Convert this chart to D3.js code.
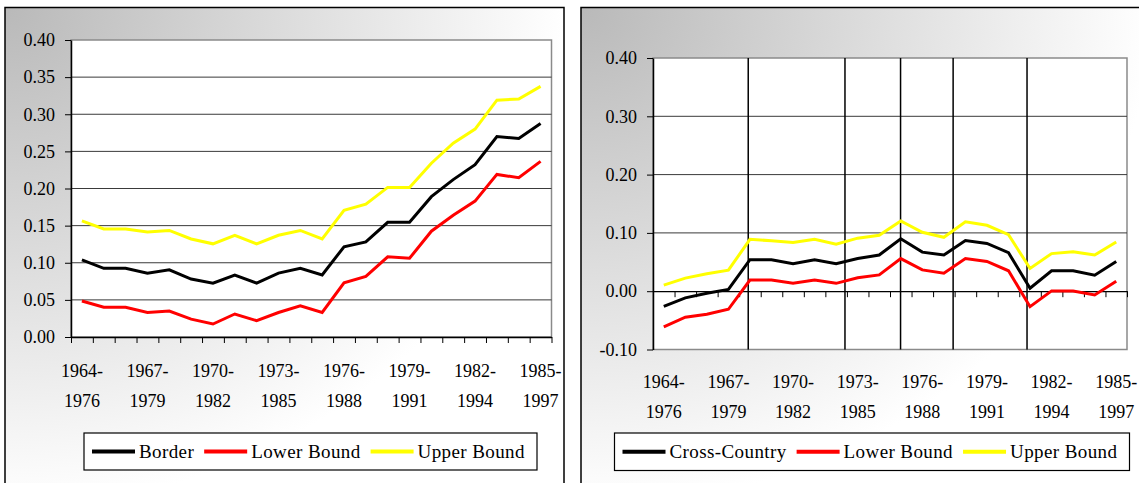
<!DOCTYPE html>
<html><head><meta charset="utf-8">
<script src="https://cdn.jsdelivr.net/npm/d3@7"></script>
<style>body{margin:0;background:#fff} svg{display:block}</style>
</head><body>
<svg id="c" width="1139" height="483"></svg>
<script>
// ---------------- data ----------------
const categories = ["1964-1976","1965-1977","1966-1978","1967-1979","1968-1980","1969-1981",
  "1970-1982","1971-1983","1972-1984","1973-1985","1974-1986","1975-1987","1976-1988",
  "1977-1989","1978-1990","1979-1991","1980-1992","1981-1993","1982-1994","1983-1995",
  "1984-1996","1985-1997"];

const borderValues = [0.104,0.0925,0.0925,0.086,0.0905,0.078,0.0725,0.0835,0.0725,0.086,0.0925,
  0.0835,0.1215,0.128,0.1545,0.1545,0.189,0.212,0.232,0.270,0.2675,0.2875];
const borderLower = [0.0485,0.040,0.040,0.033,0.035,0.024,0.0175,0.031,0.022,0.033,0.042,
  0.033,0.073,0.0815,0.108,0.106,0.1425,0.164,0.183,0.219,0.2145,0.2365];
const borderUpper = [0.1565,0.1455,0.1455,0.1415,0.1435,0.132,0.1255,0.137,0.1255,0.137,0.1435,
  0.132,0.1705,0.179,0.2015,0.2015,0.234,0.261,0.280,0.319,0.3205,0.3375];

const crossValues = [-0.026,-0.0115,-0.0035,0.003,0.054,0.054,0.047,0.054,0.047,0.056,0.062,
  0.090,0.067,0.062,0.087,0.082,0.066,0.005,0.035,0.035,0.0275,0.051];
const crossLower = [-0.061,-0.0445,-0.0395,-0.031,0.019,0.019,0.0135,0.019,0.0135,0.023,0.028,
  0.056,0.0365,0.031,0.056,0.051,0.035,-0.0265,0.0005,0.0005,-0.0065,0.017];
const crossUpper = [0.0105,0.0225,0.030,0.036,0.089,0.0865,0.0835,0.089,0.0805,0.091,0.096,
  0.1205,0.101,0.0925,0.119,0.113,0.097,0.039,0.0645,0.0675,0.062,0.0845];

const borderYTicks = [0,0.05,0.10,0.15,0.20,0.25,0.30,0.35,0.40];
const crossYTicks = [-0.10,0,0.10,0.20,0.30,0.40];
const labelEvery = 3;
// vertical reference lines of the cross-country panel, in category units
const crossRefLines = [4.42, 8.91, 11.49, 13.93, 17.36];

const borderNames = ["Border","Lower Bound","Upper Bound"];
const crossNames = ["Cross-Country","Lower Bound","Upper Bound"];
const seriesColors = ["#000000","#ff0000","#ffff00"];

// ---------------- drawing ----------------
const svg = d3.select("#c");
const defs = svg.append("defs");
const grad = defs.append("radialGradient").attr("id","bg")
  .attr("cx",0).attr("cy",0).attr("r",1).attr("fx",0).attr("fy",0);
grad.append("stop").attr("offset","0").attr("stop-color","#b9b9b9");
grad.append("stop").attr("offset","1").attr("stop-color","#ffffff");

const FONT = "'Liberation Serif', 'Times New Roman', serif";
const fmt = v => d3.format(".2f")(v).replace("\u2212","-");

function panel(cfg){
  const g = svg.append("g");
  g.append("rect").attr("x",cfg.frame[0]).attr("y",cfg.frame[1])
    .attr("width",cfg.frame[2]).attr("height",cfg.frame[3])
    .attr("fill","url(#bg)").attr("stroke","#000").attr("stroke-width",1.5);

  const x = d3.scaleBand().domain(categories).range([cfg.left,cfg.right]);
  const xi = d3.scaleLinear().domain([0,categories.length]).range([cfg.left,cfg.right]);
  const y = d3.scaleLinear().domain(cfg.yDomain).range([cfg.bottom,cfg.top]);
  const bw = x.bandwidth();

  // plot area
  g.append("rect").attr("x",cfg.left).attr("y",cfg.top)
    .attr("width",cfg.right-cfg.left).attr("height",cfg.bottom-cfg.top)
    .attr("fill","#fff").attr("stroke","#8a8a8a").attr("stroke-width",1.5);

  // horizontal gridlines
  const inner = cfg.yTicks.filter(t => t !== 0 && t > cfg.yDomain[0] && t < cfg.yDomain[1]);
  g.append("g").selectAll("line").data(inner).join("line")
    .attr("x1",cfg.left).attr("x2",cfg.right)
    .attr("y1",d=>y(d)).attr("y2",d=>y(d))
    .attr("stroke","#3a3a3a").attr("stroke-width",1);

  // vertical reference lines
  g.append("g").selectAll("line").data(cfg.refLines||[]).join("line")
    .attr("x1",d=>xi(d)).attr("x2",d=>xi(d))
    .attr("y1",cfg.top).attr("y2",cfg.bottom)
    .attr("stroke","#000").attr("stroke-width",1.5);

  // zero axis with category ticks
  const xa = g.append("g").attr("transform",`translate(0,${y(0)})`)
    .call(d3.axisBottom(xi).tickValues(d3.range(categories.length+1))
      .tickSize(6).tickSizeOuter(0).tickFormat(""));
  xa.select(".domain").attr("stroke","#000").attr("stroke-width",1.3);
  xa.selectAll(".tick line").attr("stroke","#000").attr("stroke-width",1);

  // y axis
  const ya = g.append("g").attr("transform",`translate(${cfg.left},0)`)
    .call(d3.axisLeft(y).tickValues(cfg.yTicks).tickSize(6).tickSizeOuter(0)
      .tickPadding(10).tickFormat(fmt));
  ya.select(".domain").attr("stroke","#000").attr("stroke-width",1.5);
  ya.selectAll(".tick line").attr("stroke","#000");
  ya.selectAll(".tick text").attr("font-family",FONT).attr("font-size",18).attr("fill","#000");

  // x labels (every third category, two lines)
  const lab = g.append("g").selectAll("text")
    .data(categories.filter((c,i)=>i%labelEvery===0)).join("text")
    .attr("font-family",FONT).attr("font-size",18).attr("fill","#000")
    .attr("text-anchor","middle");
  lab.append("tspan").attr("x",d=>x(d)+bw/2).attr("y",cfg.label1)
    .text(d=>d.split("-")[0]+"-");
  lab.append("tspan").attr("x",d=>x(d)+bw/2).attr("y",cfg.label2)
    .text(d=>d.split("-")[1]);

  // lines
  const line = d3.line().x((d,i)=>x(categories[i])+bw/2).y(d=>y(d));
  const series = cfg.series;
  [2,1,0].forEach(k=>{
    g.append("path").datum(series[k]).attr("d",line)
      .attr("fill","none").attr("stroke",seriesColors[k]).attr("stroke-width",3)
      .attr("stroke-linejoin","miter");
  });

  // legend
  const L = cfg.legend;
  g.append("rect").attr("x",L[0]).attr("y",L[1]).attr("width",L[2]).attr("height",L[3])
    .attr("fill","#fff").attr("stroke","#000").attr("stroke-width",1.2);
  let cx = L[0]+8;
  const ly = L[1]+L[3]/2;
  cfg.names.forEach((n,k)=>{
    g.append("line").attr("x1",cx).attr("x2",cx+43).attr("y1",ly).attr("y2",ly)
      .attr("stroke",seriesColors[k]).attr("stroke-width",4);
    cx += 47;
    const t = g.append("text").attr("x",cx).attr("y",ly+6.5)
      .attr("font-family",FONT).attr("font-size",19).attr("letter-spacing","0.4px")
      .attr("fill","#000").text(n);
    cx += t.node().getComputedTextLength() + 10;
  });
}

panel({
  frame:[5,7.5,559,500],
  left:71, right:551.5, top:40, bottom:337,
  yDomain:[0,0.40], yTicks:borderYTicks,
  label1:377.3, label2:406.7,
  series:[borderValues,borderLower,borderUpper],
  names:borderNames,
  legend:[84,433,453,37]
});

panel({
  frame:[581,7.5,570,500],
  left:653, right:1127, top:58, bottom:349.5,
  yDomain:[-0.10,0.40], yTicks:crossYTicks,
  refLines:crossRefLines,
  label1:388.3, label2:418.3,
  series:[crossValues,crossLower,crossUpper],
  names:crossNames,
  legend:[614.5,433,515,37.5]
});
</script>
</body></html>
